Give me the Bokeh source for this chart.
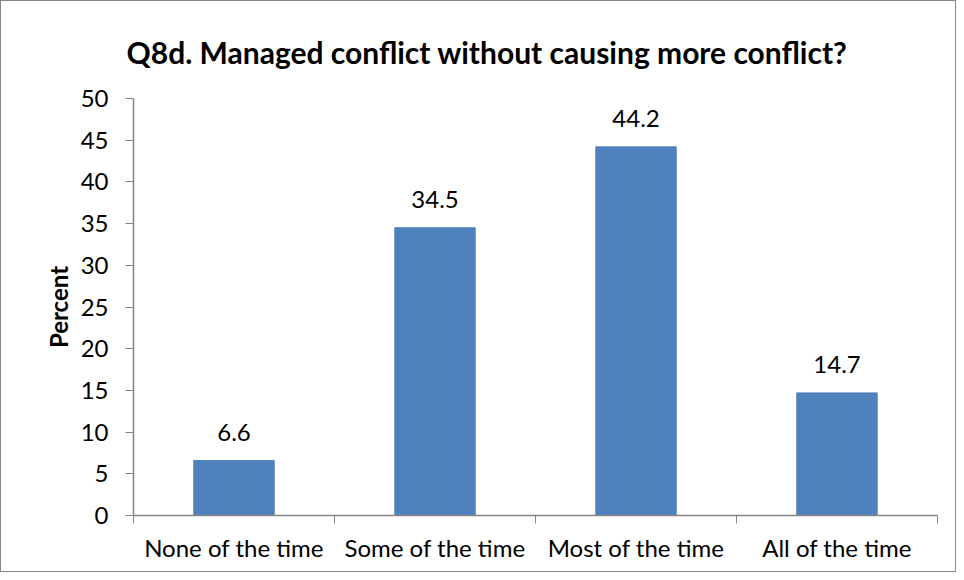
from bokeh.plotting import figure
from bokeh.models import ColumnDataSource, FixedTicker, Range1d
from bokeh.core.properties import value
from bokeh.embed import file_html
from bokeh.resources import INLINE

categories = ["None of the time", "Some of the time", "Most of the time", "All of the time"]
values = [6.6, 34.5, 44.2, 14.7]
y_ticks = [0, 5, 10, 15, 20, 25, 30, 35, 40, 45, 50]

pos = [i + 0.5 for i in range(len(categories))]
src = ColumnDataSource(dict(x=pos, top=values, label=[f"{v:.1f}" for v in values]))

FONT = "Lato"
p = figure(width=956, height=572, output_backend="svg", toolbar_location=None,
           x_range=Range1d(0, len(categories)), y_range=Range1d(0, 50),
           min_border_left=132, min_border_right=20, min_border_top=97, min_border_bottom=58)
p.styles = {"border": "1px solid #868686", "box-sizing": "border-box"}

p.title.text = "Q8d. Managed conflict without causing more conflict?"
p.title.align = "left"
p.title.text_font = FONT
p.title.text_font_size = "30px"
p.title.text_font_style = "bold"
p.title.text_color = "#000000"
p.title.offset = -7
p.title.standoff = 58

p.vbar(x="x", top="top", width=0.4, source=src, fill_color="#4F81BD", line_color="#4F81BD")
p.text(x="x", y="top", text="label", source=src, y_offset=-28, text_align="center",
       text_baseline="alphabetic", text_font_size="24px", text_color="#000000",
       text_font=value(FONT))

p.grid.visible = False
p.outline_line_color = None

xa = p.xaxis[0]
xa.ticker = FixedTicker(ticks=pos, minor_ticks=list(range(len(categories) + 1)))
xa.major_label_overrides = {p_: c for p_, c in zip(pos, categories)}
xa.major_tick_line_color = None
xa.minor_tick_line_color = "#868686"
xa.minor_tick_out = 8
xa.minor_tick_in = 0
xa.axis_line_color = "#868686"
xa.axis_line_width = 1.5
xa.major_label_text_font = FONT
xa.major_label_text_font_size = "24px"
xa.major_label_text_color = "#000000"
xa.major_label_standoff = 9

ya = p.yaxis[0]
ya.ticker = FixedTicker(ticks=y_ticks)
ya.axis_line_color = "#868686"
ya.axis_line_width = 1.5
ya.major_tick_line_color = "#868686"
ya.major_tick_out = 8
ya.major_tick_in = 0
ya.minor_tick_line_color = None
ya.major_label_text_font = FONT
ya.major_label_text_font_size = "24px"
ya.major_label_text_color = "#000000"
ya.major_label_standoff = 17
ya.axis_label = "Percent"
ya.axis_label_text_font = FONT
ya.axis_label_text_font_size = "24px"
ya.axis_label_text_font_style = "bold"
ya.axis_label_text_color = "#000000"
ya.axis_label_standoff = 5

open("out.html", "w").write(file_html(p, INLINE))
